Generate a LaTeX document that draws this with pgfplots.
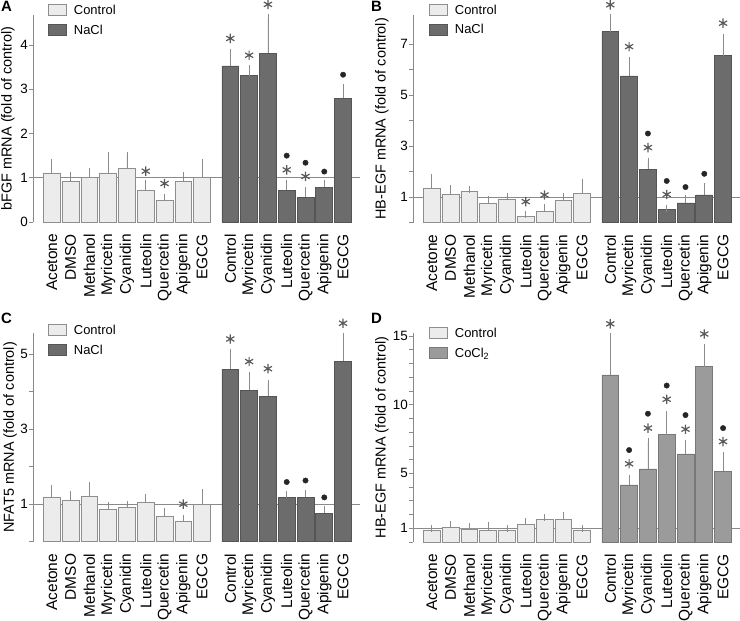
\documentclass[border=0pt]{standalone}
\usepackage{pgfplots}
\usepackage{pgfplotstable}
\pgfplotsset{compat=1.18}
\usepackage{fontspec}
\setmainfont{Liberation Sans}
\setsansfont{Liberation Sans}

\definecolor{ctrlfill}{HTML}{EBECEB}
\definecolor{ctrledge}{HTML}{8E8E8E}
\definecolor{naclfill}{HTML}{6C6C6C}
\definecolor{nacledge}{HTML}{555555}
\definecolor{cocfill}{HTML}{9B9B9B}
\definecolor{cocedge}{HTML}{787878}
\definecolor{errc}{HTML}{8C8C8C}
\definecolor{axisc}{HTML}{8A8A8A}
\definecolor{starc}{HTML}{5A5A5A}
\newcommand\fs[1]{\fontsize{#1}{#1}\selectfont}

% columns: position, bar value, top of error bar
\pgfplotstableread{
x y top
0 1.11 1.35
1 0.925 1.06
2 1.00 1.15
3 1.11 1.50
4 1.22 1.51
5 0.72 0.86
6 0.50 0.56
7 0.925 1.05
8 1.00 1.34
}\ctrlA
\pgfplotstableread{
x y top
9.5 3.53 3.83
10.5 3.31 3.47
11.5 3.81 4.62
12.5 0.72 0.88
13.5 0.56 0.71
14.5 0.79 0.88
15.5 2.80 3.04
}\treatA
\pgfplotstableread{
x y top
0 1.35 1.78
1 1.11 1.32
2 1.23 1.31
3 0.76 0.92
4 0.90 1.03
5 0.26 0.33
6 0.44 0.60
7 0.88 1.02
8 1.15 1.58
}\ctrlB
\pgfplotstableread{
x y top
9.5 7.49 8.05
10.5 5.75 6.37
11.5 2.09 2.40
12.5 0.50 0.56
13.5 0.77 0.93
14.5 1.08 1.42
15.5 6.54 7.25
}\treatB
\pgfplotstableread{
x y top
0 1.19 1.42
1 1.10 1.26
2 1.22 1.51
3 0.85 0.97
4 0.92 0.98
5 1.04 1.17
6 0.68 0.81
7 0.54 0.62
8 1.00 1.30
}\ctrlC
\pgfplotstableread{
x y top
9.5 4.60 5.05
10.5 4.04 4.44
11.5 3.88 4.22
12.5 1.18 1.26
13.5 1.18 1.29
14.5 0.76 0.86
15.5 4.81 5.47
}\treatC
\pgfplotstableread{
x y top
0 0.88 0.95
1 1.09 1.31
2 0.95 1.14
3 0.85 1.22
4 0.85 0.97
5 1.27 1.46
6 1.65 1.80
7 1.65 1.95
8 0.88 0.95
}\ctrlD
\pgfplotstableread{
x y top
9.5 12.17 14.96
10.5 4.16 4.65
11.5 5.33 7.30
12.5 7.81 9.29
13.5 6.42 7.20
14.5 12.77 14.14
15.5 5.16 6.28
}\treatD

\pgfplotsset{
  panel/.style={
    anchor=south west, scale only axis, width=327bp,
    xmin=-1, ymin=0, clip=false,
    axis y line=left, axis x line=bottom,
    x axis line style={draw=none},
    y axis line style={-, draw=axisc, line width=0.8pt},
    tick style={draw=axisc, line width=0.8pt},
    xtick style={draw=none},
    tick align=outside, major tick length=4bp, minor tick length=4bp,
    xtick={0,1,2,3,4,5,6,7,8,9.5,10.5,11.5,12.5,13.5,14.5,15.5},
    xticklabel style={rotate=90, anchor=east, inner sep=0pt, font=\fs{15.5}},
    xticklabel shift=8bp,
    yticklabel style={font=\fs{13.5}, inner sep=1bp},
    /pgf/number format/assume math mode=true,
    ylabel style={font=\fs{14.5}, anchor=center},
    legend style={draw=none, fill=none, anchor=north west, font=\fs{13},
      inner sep=0pt, row sep=5bp, cells={anchor=west}},
    legend image code/.code={\draw[##1, line width=0.7pt] (0bp,-5.5bp) rectangle (18bp,5.5bp);
      \path (23bp,0bp);},
  },
  ctrlbar/.style={ybar, bar width=0.9, bar shift=0pt, fill=ctrlfill, draw=ctrledge, line width=0.7pt,
    error bars/y dir=plus, error bars/y explicit,
    error bars/error bar style={errc, line width=0.8pt},
    error bars/error mark options={errc, line width=0.8pt, mark size=3.5bp}},
  treatbar/.style={ctrlbar, fill=naclfill, draw=nacledge},
  refline/.style={forget plot, axisc, line width=0.8pt},
  stars/.style={forget plot, only marks, mark=asterisk, mark size=4.7bp, starc, mark options={line width=1.2pt}},
  dots/.style={forget plot, only marks, mark=*, mark size=2.7bp, black!85},
}

\begin{document}
\begin{tikzpicture}
\node[anchor=north west, inner sep=0pt, font=\fs{15}\bfseries] at (1bp,-1bp) {A};
\node[anchor=north west, inner sep=0pt, font=\fs{15}\bfseries] at (371bp,-1bp) {B};
\node[anchor=north west, inner sep=0pt, font=\fs{15}\bfseries] at (1bp,-313bp) {C};
\node[anchor=north west, inner sep=0pt, font=\fs{15}\bfseries] at (371bp,-313bp) {D};

% A
\begin{axis}[panel, at={(33bp,-222bp)}, height=207bp, ymax=4.68, xmax=16.4,
  ytick={0,1,2,3,4},
  xticklabels={Acetone,DMSO,Methanol,Myricetin,Cyanidin,Luteolin,Quercetin,Apigenin,EGCG,Control,Myricetin,Cyanidin,Luteolin,Quercetin,Apigenin,EGCG},
  ylabel={bFGF mRNA (fold of control)},
  ylabel style={at={(axis description cs:-0.0765,0.5)}},
  legend style={at={(axis description cs:0.046,1.06)}}]
\addplot[refline] coordinates {(-1,1) (16.4,1)};
\addplot[ctrlbar] table[x=x, y=y, y error expr=\thisrow{top}-\thisrow{y}] {\ctrlA};
\addlegendentry{Control}
\addplot[treatbar] table[x=x, y=y, y error expr=\thisrow{top}-\thisrow{y}] {\treatA};
\addlegendentry{NaCl}
\addplot[stars] coordinates {(5,1.15) (6,0.87) (9.5,4.15) (10.5,3.77) (11.5,4.92) (12.5,1.18) (13.5,1.03)};
\addplot[dots] coordinates {(12.5,1.5) (13.5,1.34) (14.5,1.14) (15.5,3.33)};
\end{axis}

% B
\begin{axis}[panel, at={(413bp,-222.5bp)}, height=207.5bp, ymax=8.14, xmax=16.4,
  ytick={1,3,5,7}, minor ytick={0,2,4,6},
  xticklabels={Acetone,DMSO,Methanol,Myricetin,Cyanidin,Luteolin,Quercetin,Apigenin,EGCG,Control,Myricetin,Cyanidin,Luteolin,Quercetin,Apigenin,EGCG},
  ylabel={HB-EGF mRNA (fold of control)},
  ylabel style={at={(axis description cs:-0.095,0.5)}},
  legend style={at={(axis description cs:0.049,1.06)}}]
\addplot[refline] coordinates {(-1,1) (16.4,1)};
\addplot[ctrlbar] table[x=x, y=y, y error expr=\thisrow{top}-\thisrow{y}] {\ctrlB};
\addlegendentry{Control}
\addplot[treatbar] table[x=x, y=y, y error expr=\thisrow{top}-\thisrow{y}] {\treatB};
\addlegendentry{NaCl}
\addplot[stars] coordinates {(5,0.82) (6,1.08) (9.5,8.54) (10.5,6.9) (11.5,2.94) (12.5,1.1) (15.5,7.82)};
\addplot[dots] coordinates {(11.5,3.49) (12.5,1.63) (13.5,1.39) (14.5,1.91)};
\end{axis}

% C
\begin{axis}[panel, at={(33bp,-541.7bp)}, height=208.7bp, ymax=5.56, xmax=16.4,
  ytick={1,3,5}, minor ytick={0,2,4},
  xticklabels={Acetone,DMSO,Methanol,Myricetin,Cyanidin,Luteolin,Quercetin,Apigenin,EGCG,Control,Myricetin,Cyanidin,Luteolin,Quercetin,Apigenin,EGCG},
  ylabel={NFAT5 mRNA (fold of control)},
  ylabel style={at={(axis description cs:-0.07,0.5)}},
  legend style={at={(axis description cs:0.046,1.05)}}]
\addplot[refline] coordinates {(-1,1) (16.4,1)};
\addplot[ctrlbar] table[x=x, y=y, y error expr=\thisrow{top}-\thisrow{y}] {\ctrlC};
\addlegendentry{Control}
\addplot[treatbar] table[x=x, y=y, y error expr=\thisrow{top}-\thisrow{y}] {\treatC};
\addlegendentry{NaCl}
\addplot[stars] coordinates {(7,1.0) (9.5,5.4) (10.5,4.8) (11.5,4.61) (15.5,5.82)};
\addplot[dots] coordinates {(12.5,1.59) (13.5,1.63) (14.5,1.18)};
\end{axis}

% D
\begin{axis}[panel, at={(413bp,-542bp)}, height=209bp, ymax=15.23, xmax=16.4,
  ytick={1,5,10,15}, minor ytick={0,2,3,4,6,7,8,9,11,12,13,14},
  xticklabels={Acetone,DMSO,Methanol,Myricetin,Cyanidin,Luteolin,Quercetin,Apigenin,EGCG,Control,Myricetin,Cyanidin,Luteolin,Quercetin,Apigenin,EGCG},
  ylabel={HB-EGF mRNA (fold of control)},
  ylabel style={at={(axis description cs:-0.095,0.5)}},
  legend style={at={(axis description cs:0.049,1.035)}}]
\addplot[refline] coordinates {(-1,1) (16.4,1)};
\addplot[ctrlbar] table[x=x, y=y, y error expr=\thisrow{top}-\thisrow{y}] {\ctrlD};
\addlegendentry{Control}
\addplot[treatbar, fill=cocfill, draw=cocedge] table[x=x, y=y, y error expr=\thisrow{top}-\thisrow{y}] {\treatD};
\addlegendentry{CoCl\textsubscript{2}}
\addplot[stars] coordinates {(9.5,15.9) (10.5,5.7) (11.5,8.3) (12.5,10.4) (13.5,8.22) (14.5,15.16) (15.5,7.32)};
\addplot[dots] coordinates {(10.5,6.7) (11.5,9.35) (12.5,11.4) (13.5,9.25) (15.5,8.3)};
\end{axis}

\pgfresetboundingbox
\path[use as bounding box] (0bp,0bp) rectangle (740bp,-621bp);
\end{tikzpicture}
\end{document}
